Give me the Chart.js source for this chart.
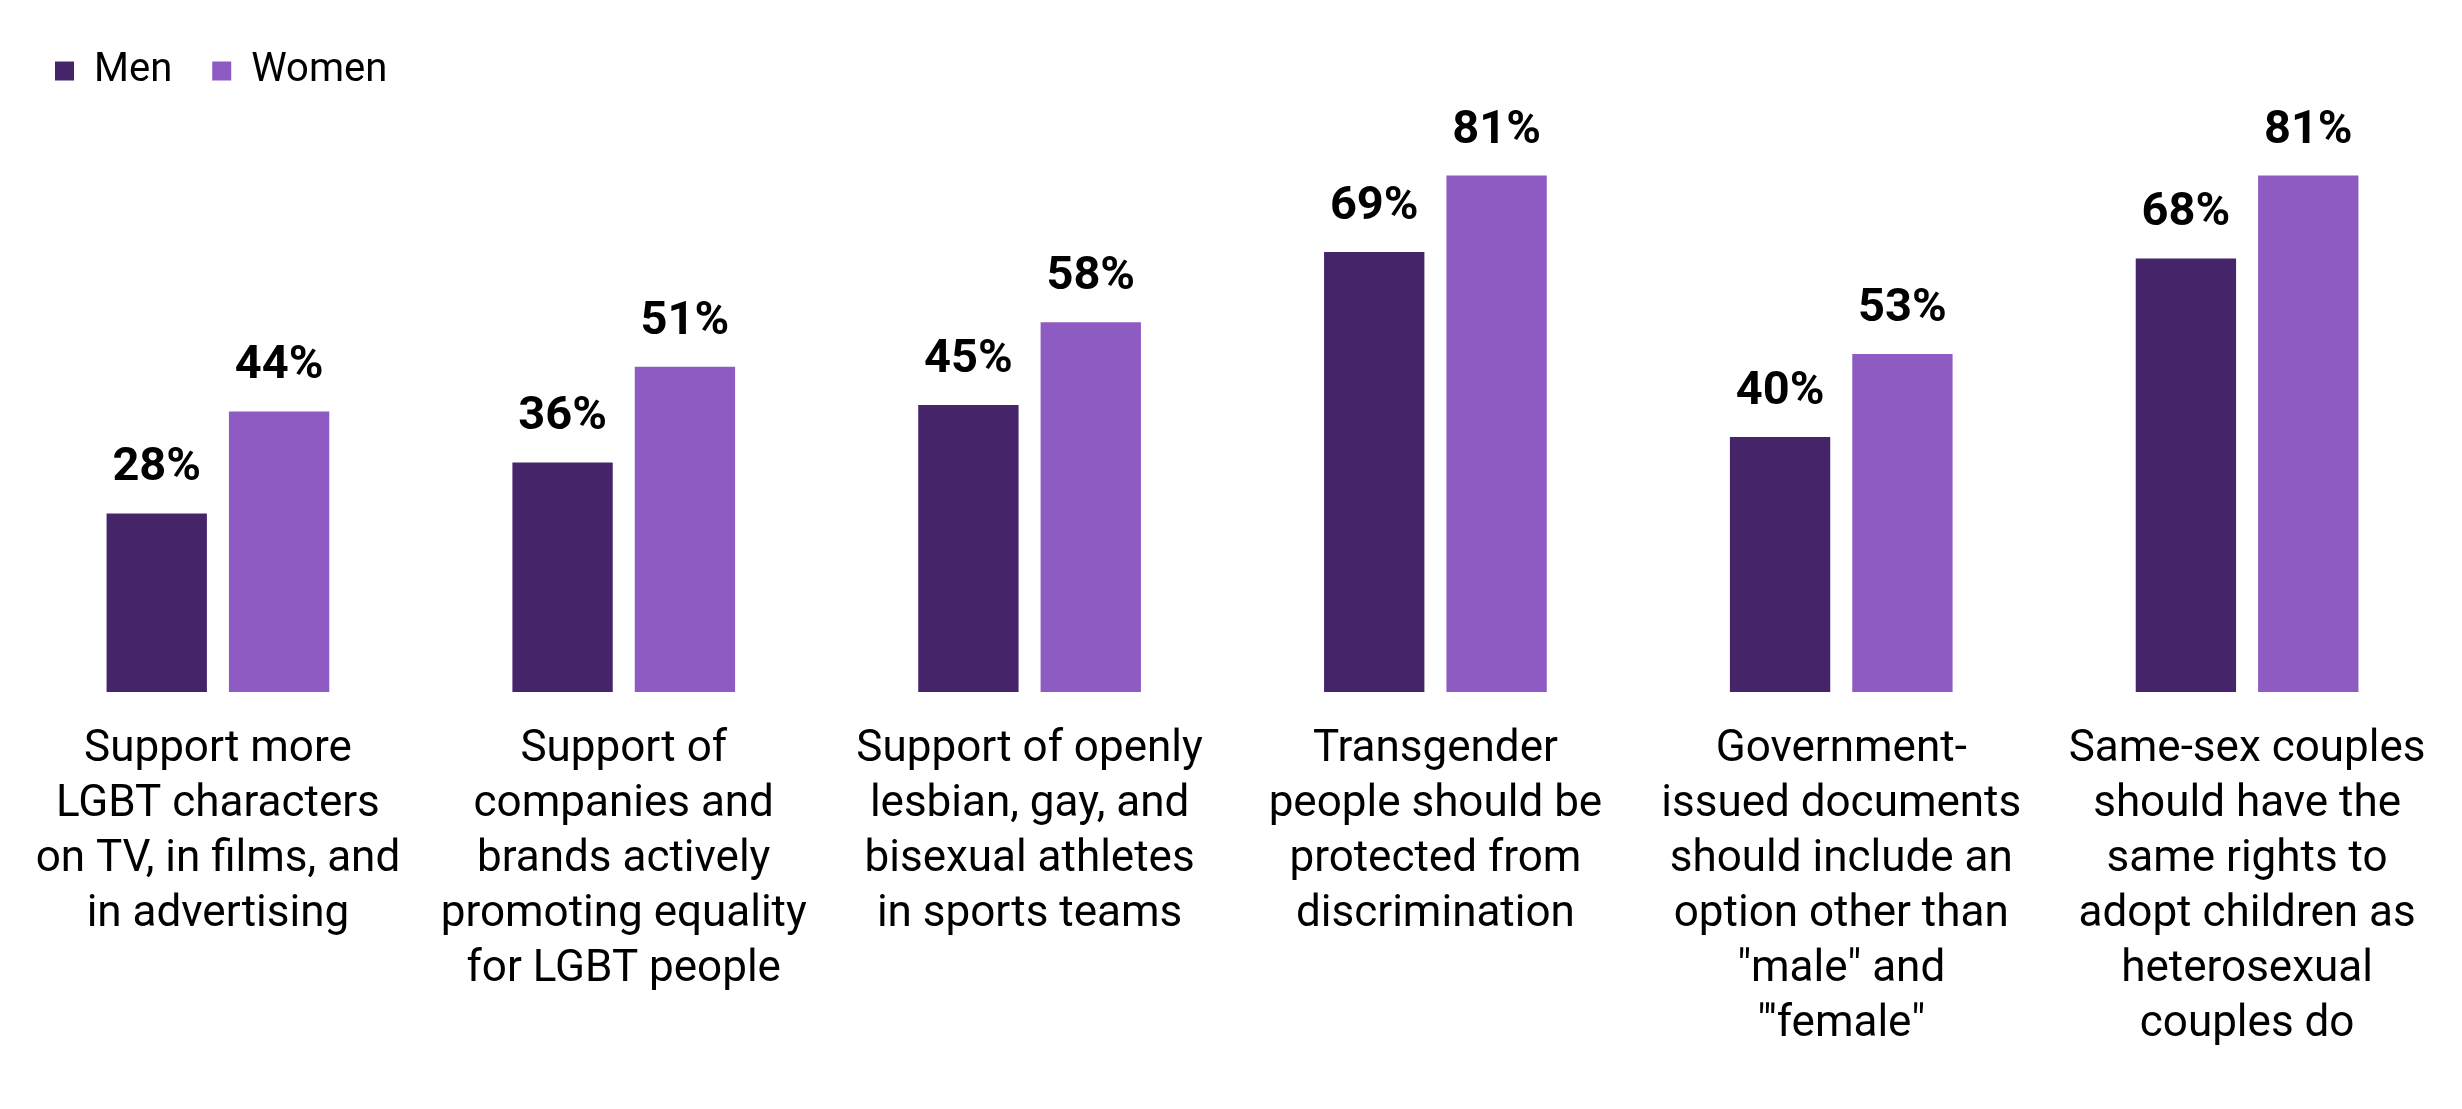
<!DOCTYPE html>
<html>
<head>
<meta charset="utf-8">
<script src="https://cdn.jsdelivr.net/npm/chart.js@4.4.1/dist/chart.umd.min.js"></script>
<style>
  html, body { margin: 0; padding: 0; background: #fff; }
  #wrap { width: 2462px; height: 1109px; }
</style>
</head>
<body>
<div id="wrap"><canvas id="attitudeschart" width="2462" height="1109"></canvas></div>
<script>
// categories (x axis), one entry per line of the label
const categories = [
    ['Support more', 'LGBT characters', 'on TV, in films, and', 'in advertising'],
    ['Support of', 'companies and', 'brands actively', 'promoting equality', 'for LGBT people'],
    ['Support of openly', 'lesbian, gay, and', 'bisexual athletes', 'in sports teams'],
    ['Transgender', 'people should be', 'protected from', 'discrimination'],
    ['Government-', 'issued documents', 'should include an', 'option other than', '"male" and', '"\'female"'],
    ['Same-sex couples', 'should have the', 'same rights to', 'adopt children as', 'heterosexual', 'couples do']
]
const seriesNames = ['Men', 'Women']
const menValues = [28, 36, 45, 69, 40, 68]
const womenValues = [44, 51, 58, 81, 53, 81]
const colors = ['#45246a', '#8e5bc3']

//value labels above every bar
const barValueLabels = {
    id: 'barValueLabels',
    afterDatasetsDraw: function (chart) {
        const ctx = chart.ctx;
        ctx.save();
        ctx.font = 'bold 47px Roboto';
        ctx.fillStyle = '#000';
        ctx.textAlign = 'center';
        ctx.textBaseline = 'alphabetic';
        chart.data.datasets.forEach(function (ds, i) {
            chart.getDatasetMeta(i).data.forEach(function (bar, j) {
                ctx.fillText(ds.data[j] + '%', bar.x, bar.y - 33);
            });
        });
        ctx.restore();
    }
}

Chart.defaults.font.family = 'Roboto';
Chart.defaults.color = '#000';

const myChartBar = new Chart(document.querySelector('#attitudeschart').getContext('2d'), {
    type: 'bar',
    data: {
        labels: categories,
        datasets: [
            {label: seriesNames[0], data: menValues, backgroundColor: colors[0]},
            {label: seriesNames[1], data: womenValues, backgroundColor: colors[1]}
        ]
    },
    options: {
        responsive: false,
        devicePixelRatio: 1,
        animation: false,
        categoryPercentage: 0.603,
        barPercentage: 0.82,
        layout: {
            padding: {top: 11, left: 15, right: 12, bottom: 35}
        },
        plugins: {
            legend: {
                position: 'top',
                align: 'start',
                labels: {
                    boxWidth: 19,
                    boxHeight: 19,
                    padding: 40,
                    font: {size: 40}
                }
            },
            tooltip: {enabled: false}
        },
        scales: {
            x: {
                grid: {display: false},
                border: {display: false},
                ticks: {
                    maxRotation: 0,
                    autoSkip: false,
                    padding: 22,
                    font: {size: 44, lineHeight: 1.25}
                }
            },
            y: {
                display: false,
                min: 0,
                max: 92.7
            }
        }
    },
    plugins: [barValueLabels]
});
</script>
</body>
</html>
